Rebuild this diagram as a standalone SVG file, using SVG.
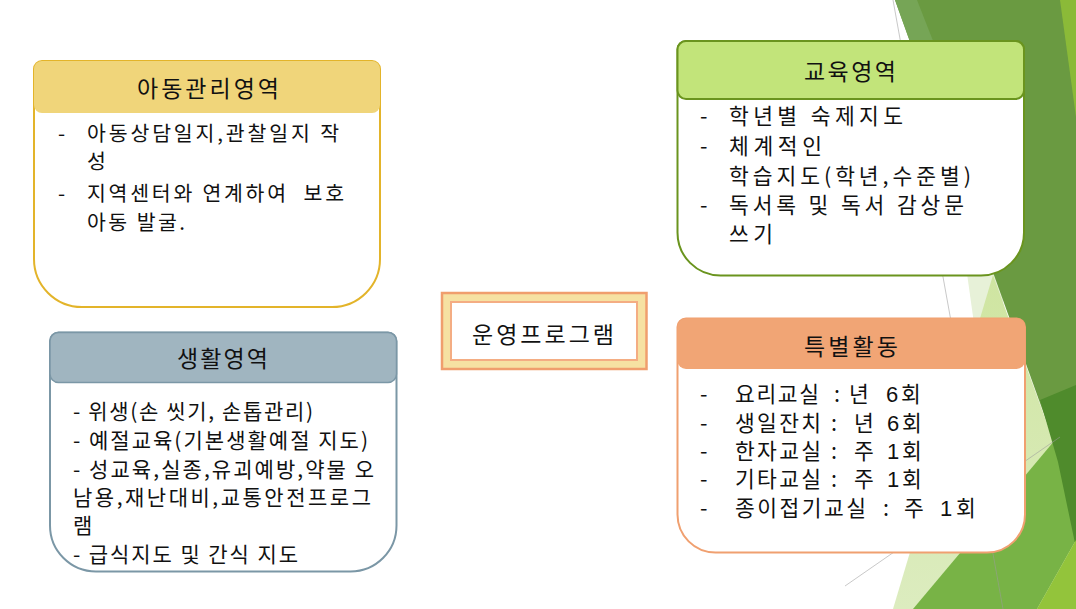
<svg xmlns="http://www.w3.org/2000/svg" width="1076" height="609" viewBox="0 0 1076 609">
  <defs>
    <linearGradient id="lightGreen" x1="0" y1="0" x2="0" y2="1">
      <stop offset="0" stop-color="#cfe5a1"/>
      <stop offset="1" stop-color="#dcecbf"/>
    </linearGradient>
  </defs>
  <style>
    text { font-family: "Noto Sans CJK KR", "Liberation Sans", sans-serif; fill: #111; }
    .hd { font-size: 23px; }
    .bd { font-size: 21.5px; }
    .bda { font-size: 20.5px; }
    .bdb { font-size: 21px; }
    .num { font-family: "Liberation Sans", "Noto Sans CJK KR", sans-serif; font-size: 22px; }
    .box { fill: #ffffff; stroke-width: 2; }
    .deco-line { stroke: #9a9a9a; stroke-opacity: 0.55; stroke-width: 1; fill: none; }
  </style>
  <rect x="0" y="0" width="1076" height="609" fill="#ffffff"/>

  <g id="background">
    <polygon points="963,245 1000,245 1020,609 1014,609" fill="#e7f1d8"/>
    <polygon points="993,275 893,609 1076,609 1076,503" fill="url(#lightGreen)"/>
    <polygon points="895,0 1076,0 1076,503" fill="#6a9a41"/>
    <polygon points="895,0 917,0 1015,250 990,265" fill="#76a556"/>
    <polygon points="1060,0 1076,0 1076,117" fill="#8bba38"/>
    <polygon points="913,609 1055,440 1076,503 1076,540 1037,609" fill="#78b346"/>
    <polygon points="1040,400 1076,385 1076,548 1058,462" fill="#4f8b2c"/>
    <polygon points="1076,540 1037,609 1076,609" fill="#93c43b"/>
    <line class="deco-line" x1="893" y1="0" x2="1003" y2="609"/>
    <line class="deco-line" x1="845" y1="586" x2="1060" y2="437"/>
  </g>

  <g id="connectors"/>

  <g id="node-child-care">
    <path class="box" stroke="#e3b42a" d="M42,61 H372 A8,8 0 0 1 380,69 V259 A48,48 0 0 1 332,307 H82 A48,48 0 0 1 34,259 V69 A8,8 0 0 1 42,61 Z"/>
    <rect x="34" y="61" width="346" height="52" rx="8" fill="#f0d57a"/>
    <text class="hd" x="137" y="97" textLength="142" lengthAdjust="spacing">아동관리영역</text>
    <text class="bda" x="58" y="140.5">-</text>
    <text class="bda" x="87" y="140.5" textLength="252" lengthAdjust="spacing">아동상담일지,관찰일지 작</text>
    <text class="bda" x="87" y="169">성</text>
    <text class="bda" x="58" y="201">-</text>
    <text class="bda" x="87" y="201" textLength="257" lengthAdjust="spacing" xml:space="preserve">지역센터와 연계하여  보호</text>
    <text class="bda" x="87" y="229.5" textLength="98" lengthAdjust="spacing">아동 발굴.</text>
  </g>

  <g id="node-life">
    <path class="box" stroke="#7b97a6" d="M58.5,332.5 H388 A8.5,8.5 0 0 1 396.5,341 V525.5 A46,46 0 0 1 350.5,571.5 H96 A46,46 0 0 1 50,525.5 V341 A8.5,8.5 0 0 1 58.5,332.5 Z"/>
    <rect x="50" y="332.5" width="346.5" height="50" rx="8.5" fill="#a0b5c0" stroke="#7b97a6" stroke-width="1.5"/>
    <text class="hd" x="177" y="367" textLength="91" lengthAdjust="spacing">생활영역</text>
    <text class="bdb" x="73" y="419" textLength="240" lengthAdjust="spacing">- 위생(손 씻기, 손톱관리)</text>
    <text class="bdb" x="73" y="448" textLength="295" lengthAdjust="spacing">- 예절교육(기본생활예절 지도)</text>
    <text class="bdb" x="73" y="476.5" textLength="301" lengthAdjust="spacing">- 성교육,실종,유괴예방,약물 오</text>
    <text class="bdb" x="73" y="505" textLength="298" lengthAdjust="spacing">남용,재난대비,교통안전프로그</text>
    <text class="bdb" x="73" y="533">램</text>
    <text class="bdb" x="73" y="562" textLength="225" lengthAdjust="spacing">- 급식지도 및 간식 지도</text>
  </g>

  <g id="node-education">
    <path class="box" stroke="#6a941e" d="M686,41 H1015.5 A8.5,8.5 0 0 1 1024,49.5 V232.5 A43,43 0 0 1 981,275.5 H720.5 A43,43 0 0 1 677.5,232.5 V49.5 A8.5,8.5 0 0 1 686,41 Z"/>
    <rect x="677.5" y="41" width="346.5" height="58" rx="8.5" fill="#c2e47a" stroke="#6a941e" stroke-width="2"/>
    <text class="hd" x="804" y="80" textLength="92" lengthAdjust="spacing">교육영역</text>
    <text class="bd" x="700" y="124">-</text>
    <text class="bd" x="729" y="124" textLength="174" lengthAdjust="spacing">학년별 숙제지도</text>
    <text class="bd" x="700" y="154">-</text>
    <text class="bd" x="729" y="154" textLength="93" lengthAdjust="spacing">체계적인</text>
    <text class="bd" x="729" y="184" textLength="242" lengthAdjust="spacing">학습지도(학년,수준별)</text>
    <text class="bd" x="700" y="213">-</text>
    <text class="bd" x="729" y="213" textLength="235" lengthAdjust="spacing">독서록 및 독서 감상문</text>
    <text class="bd" x="729" y="242" textLength="44" lengthAdjust="spacing">쓰기</text>
  </g>

  <g id="node-special">
    <path class="box" stroke="#f0a070" d="M686,318.5 H1016.5 A8.5,8.5 0 0 1 1025,327 V514.5 A38,38 0 0 1 987,552.5 H715.5 A38,38 0 0 1 677.5,514.5 V327 A8.5,8.5 0 0 1 686,318.5 Z"/>
    <rect x="677.5" y="318.5" width="347.5" height="50.5" rx="8.5" fill="#f1a575"/>
    <text class="hd" x="804" y="355" textLength="94" lengthAdjust="spacing">특별활동</text>
    <text class="bd" x="700" y="402">-</text>
    <text class="bd" x="735" y="402" textLength="84" lengthAdjust="spacing">요리교실</text>
    <text class="bd" x="834" y="402">:</text>
    <text class="bd" x="849" y="402">년</text>
    <text class="num" x="886" y="402">6</text>
    <text class="bd" x="901" y="402">회</text>
    <text class="bd" x="700" y="430.5">-</text>
    <text class="bd" x="735" y="430.5" textLength="86" lengthAdjust="spacing">생일잔치</text>
    <text class="bd" x="831" y="430.5">:</text>
    <text class="bd" x="854" y="430.5">년</text>
    <text class="num" x="887" y="430.5">6</text>
    <text class="bd" x="902" y="430.5">회</text>
    <text class="bd" x="700" y="459">-</text>
    <text class="bd" x="735" y="459" textLength="86" lengthAdjust="spacing">한자교실</text>
    <text class="bd" x="831" y="459">:</text>
    <text class="bd" x="854" y="459">주</text>
    <text class="num" x="887" y="459">1</text>
    <text class="bd" x="902" y="459">회</text>
    <text class="bd" x="700" y="487">-</text>
    <text class="bd" x="735" y="487" textLength="86" lengthAdjust="spacing">기타교실</text>
    <text class="bd" x="831" y="487">:</text>
    <text class="bd" x="854" y="487">주</text>
    <text class="num" x="887" y="487">1</text>
    <text class="bd" x="902" y="487">회</text>
    <text class="bd" x="700" y="515.5">-</text>
    <text class="bd" x="735" y="515.5" textLength="131" lengthAdjust="spacing">종이접기교실</text>
    <text class="bd" x="883" y="515.5">:</text>
    <text class="bd" x="904" y="515.5">주</text>
    <text class="num" x="940" y="515.5">1</text>
    <text class="bd" x="956" y="515.5">회</text>
  </g>

  <g id="node-center">
    <rect x="442" y="293" width="204.5" height="76" fill="#f6e1a2" stroke="#f09e6d" stroke-width="2.5"/>
    <rect x="451" y="302" width="186" height="58" fill="#ffffff" stroke="#f4ad83" stroke-width="2"/>
    <text class="hd" x="472" y="343" textLength="142" lengthAdjust="spacing">운영프로그램</text>
  </g>
</svg>
